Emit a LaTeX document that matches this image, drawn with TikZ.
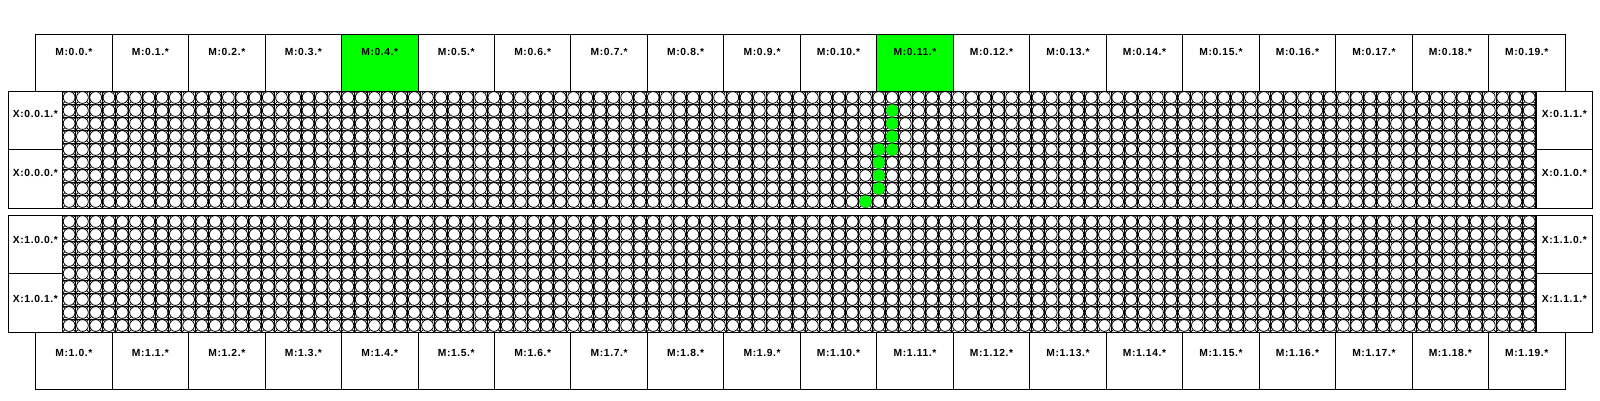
\documentclass[tikz,border=0pt]{standalone}
\usepackage{fontspec}
\setmainfont{Liberation Sans}
\newfontfamily\lblfont[LetterSpace=6]{Liberation Sans}
\tikzset{
  box/.style={draw=black, line width=1pt, inner sep=0pt, outer sep=0pt, anchor=north west},
  lbl/.style={font=\lblfont\bfseries\fontsize{10.3}{11}\selectfont, inner sep=0pt},
  gridline/.style={draw=black, line width=0.95pt},
  cell/.style={draw=black, fill=white, line width=0.8pt},
  tick/.style={draw=black, line width=0.85pt},
  hit/.style={fill=green, draw=none},
}
\begin{document}
\begin{tikzpicture}[x=1pt,y=-1pt]
\useasboundingbox (0,0) rectangle (1600,400);
% ---- M boxes ----
\foreach \k in {0,...,19} {
  \pgfmathsetmacro\xa{35.7+76.47*\k}
  \node[box, minimum width=76.47pt, minimum height=57pt] (mt\k) at (\xa,34) {};
  \node[lbl] (mtl\k) at (\xa+38.2,52) {M:0.\k.*};
  \node[box, minimum width=76.47pt, minimum height=57pt] (mb\k) at (\xa,332) {};
  \node[lbl] (mbl\k) at (\xa+38.2,352.5) {M:1.\k.*};
}
\fill[green] (mt4.north west) rectangle (mt4.south east);
\draw[line width=1pt] (mt4.north west) rectangle (mt4.south east);
\node[lbl] at (mtl4) {M:0.4.*};
\fill[green] (mt11.north west) rectangle (mt11.south east);
\draw[line width=1pt] (mt11.north west) rectangle (mt11.south east);
\node[lbl] at (mtl11) {M:0.11.*};
% ---- grids ----
\foreach \py in {91,215} {
  \begin{scope}
    \clip (62.5,\py) rectangle (1536,\py+117);
    \foreach \i in {0,...,111} \draw[gridline] ({62.5+13.273*\i},\py) -- ++(0,117);
    \foreach \j in {0,...,9} \draw[gridline] (62.5,{\py+13*\j}) -- (1536,{\py+13*\j});
    \foreach \i in {0,...,110} \foreach \j in {0,...,8}
      \draw[cell] ({62.5+13.273*(\i+0.5)},{\py+13*(\j+0.5)}) circle[radius=5.9pt];
    \foreach \i in {0,...,111} \foreach \j in {0,...,9}
      \draw[tick] ({62.5+13.273*\i-2.1},{\py+13*\j-2.1}) -- ++(4.2,4.2)
                  ({62.5+13.273*\i-2.1},{\py+13*\j+2.1}) -- ++(4.2,-4.2);
  \end{scope}
}
% highlighted qubits
\foreach \i/\j in {62/1,62/2,62/3,62/4,61/4,61/5,61/6,61/7,60/8}
  \fill[hit] ({62.5+13.273*(\i+0.5)},{91+13*(\j+0.5)}) circle[radius=6.1pt];
% ---- panels and X boxes ----
\foreach \py/\p in {91/0,215/1} {
  \draw[line width=1pt] (8.3,\py) rectangle (1592.7,\py+117);
}
\node[box, minimum width=54.2pt, minimum height=58.5pt] (xl01) at (8.3,91) {};
\node[box, minimum width=54.2pt, minimum height=58.5pt] (xl00) at (8.3,149.5) {};
\node[box, minimum width=56.7pt, minimum height=58.5pt] (xr11) at (1536,91) {};
\node[box, minimum width=56.7pt, minimum height=58.5pt] (xr10) at (1536,149.5) {};
\node[box, minimum width=54.2pt, minimum height=58.5pt] (xl10) at (8.3,215) {};
\node[box, minimum width=54.2pt, minimum height=58.5pt] (xl11) at (8.3,273.5) {};
\node[box, minimum width=56.7pt, minimum height=58.5pt] (xr20) at (1536,215) {};
\node[box, minimum width=56.7pt, minimum height=58.5pt] (xr21) at (1536,273.5) {};
\node[lbl] (t01) at (35.4,114) {X:0.0.1.*};
\node[lbl] (t00) at (35.4,173) {X:0.0.0.*};
\node[lbl] (t11) at (1564.4,114) {X:0.1.1.*};
\node[lbl] (t10) at (1564.4,173) {X:0.1.0.*};
\node[lbl] (u00) at (35.4,239.5) {X:1.0.0.*};
\node[lbl] (u01) at (35.4,298.5) {X:1.0.1.*};
\node[lbl] (u10) at (1564.4,239.5) {X:1.1.0.*};
\node[lbl] (u11) at (1564.4,298.5) {X:1.1.1.*};
\end{tikzpicture}
\end{document}
